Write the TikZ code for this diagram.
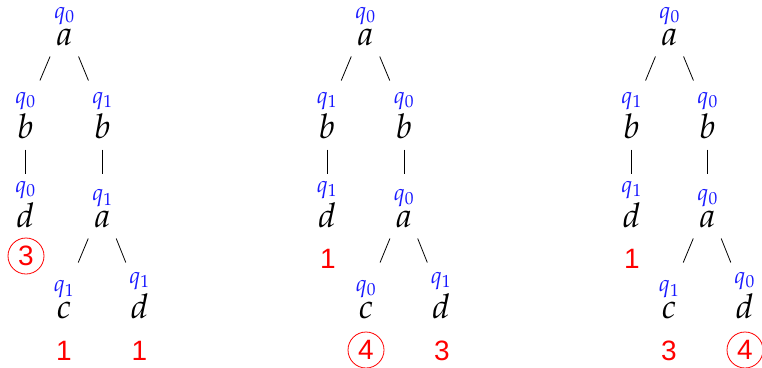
\documentclass[tikz,border=0pt]{standalone}
\usepackage{mathpazo}
\usepackage[no-math]{fontspec}
\newfontfamily\numfont{Liberation Sans}
\usetikzlibrary{calc}
\definecolor{qblue}{rgb}{0.1,0.1,1}
\newcommand\treeedge[2]{\draw[edge] let \p1=(#1.base), \p2=(#2.base) in
  ({(\x1+\x2)/2+0.13*(\x1-\x2)},{\y1-11.5pt}) -- ({(\x1+\x2)/2-0.13*(\x1-\x2)},{\y1-35.5pt});}
\begin{document}
\begin{tikzpicture}[x=1pt,y=-1pt,
  tn/.style={inner sep=0pt, anchor=base, font=\fontsize{34}{34}\selectfont},
  every label/.style={inner sep=0pt, text=qblue, font=\fontsize{23}{23}\selectfont},
  label distance=3pt,
  num/.style={text=red, font=\numfont\fontsize{28}{28}\selectfont, inner sep=0pt},
  cnum/.style={num, draw=red, circle, minimum size=36pt, line width=0.8pt},
  edge/.style={line width=0.8pt}]
\useasboundingbox (0,0) rectangle (762,367);
% tree 1
\node[tn, label=above:{$q_0$}] (ar) at (64.5,45) {$a$};
\node[tn, label=above:{$q_0$}] (abl) at (25.5,138) {$b$};
\node[tn, label=above:{$q_1$}] (abr) at (102.5,138) {$b$};
\node[tn, label=above:{$q_0$}] (adl) at (25.5,227) {$d$};
\node[tn, label=above:{$q_1$}] (aar) at (102.5,227) {$a$};
\node[tn, label=above:{$q_1$}] (ac) at (64,318) {$c$};
\node[tn, label=above:{$q_1$}] (ad) at (139.5,318) {$d$};
\treeedge{ar}{abl}\treeedge{ar}{abr}\treeedge{abl}{adl}\treeedge{abr}{aar}
\treeedge{aar}{ac}\treeedge{aar}{ad}
\node[cnum] (an1) at (26,256) {3};
\node[num] (an2) at (64,351) {1};
\node[num] (an3) at (139.5,351) {1};
% tree 2
\node[tn, label=above:{$q_0$}] (br) at (365.5,45) {$a$};
\node[tn, label=above:{$q_1$}] (bbl) at (327,138) {$b$};
\node[tn, label=above:{$q_0$}] (bbr) at (404,138) {$b$};
\node[tn, label=above:{$q_1$}] (bdl) at (327,227) {$d$};
\node[tn, label=above:{$q_0$}] (bar) at (404,227) {$a$};
\node[tn, label=above:{$q_0$}] (bc) at (366,318) {$c$};
\node[tn, label=above:{$q_1$}] (bd) at (441,318) {$d$};
\treeedge{br}{bbl}\treeedge{br}{bbr}\treeedge{bbl}{bdl}\treeedge{bbr}{bar}
\treeedge{bar}{bc}\treeedge{bar}{bd}
\node[num] (bn1) at (328,259) {1};
\node[cnum] (bn2) at (366,350) {4};
\node[num] (bn3) at (442,351) {3};
% tree 3
\node[tn, label=above:{$q_0$}] (cr) at (669.5,45) {$a$};
\node[tn, label=above:{$q_1$}] (cbl) at (631.5,138) {$b$};
\node[tn, label=above:{$q_0$}] (cbr) at (707.5,138) {$b$};
\node[tn, label=above:{$q_1$}] (cdl) at (631.5,227) {$d$};
\node[tn, label=above:{$q_0$}] (car) at (707.5,227) {$a$};
\node[tn, label=above:{$q_1$}] (cc) at (669,318) {$c$};
\node[tn, label=above:{$q_0$}] (cd) at (744.5,318) {$d$};
\treeedge{cr}{cbl}\treeedge{cr}{cbr}\treeedge{cbl}{cdl}\treeedge{cbr}{car}
\treeedge{car}{cc}\treeedge{car}{cd}
\node[num] (cn1) at (632,259) {1};
\node[num] (cn2) at (669,351) {3};
\node[cnum] (cn3) at (745,350) {4};
\end{tikzpicture}
\end{document}
